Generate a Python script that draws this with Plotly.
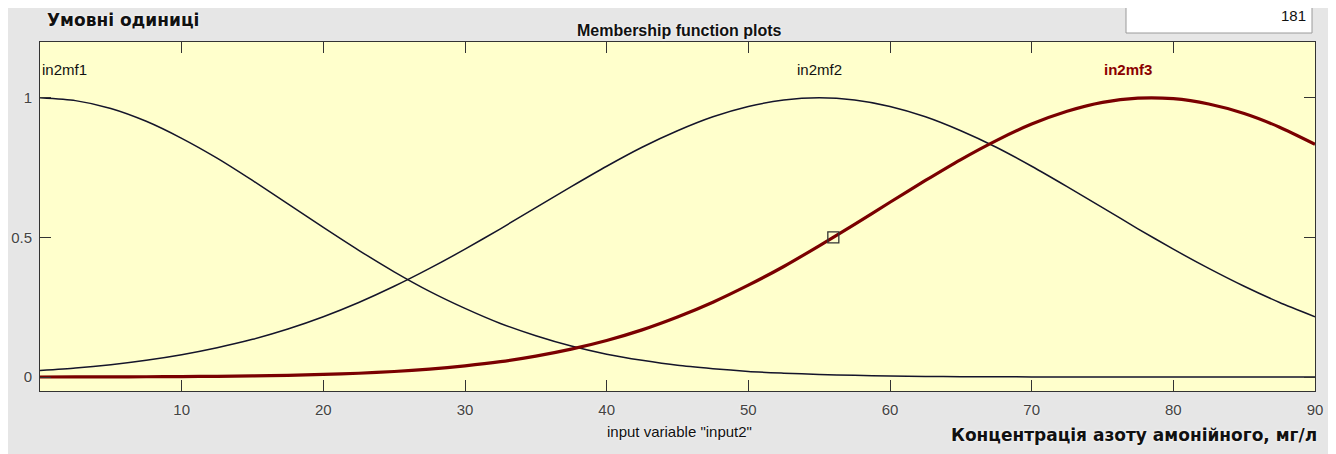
import plotly.graph_objects as go

# x positions where values were read (step 2.5)
x_vals = [i * 2.5 for i in range(37)]
# membership values
in2mf1 = [1.0, 0.990, 0.962, 0.916, 0.855, 0.784, 0.704, 0.620, 0.536, 0.454, 0.377, 0.307,
          0.246, 0.192, 0.148, 0.111, 0.082, 0.060, 0.042, 0.030, 0.020, 0.014, 0.009, 0.006,
          0.004, 0.002, 0.0014, 0.0008, 0.0005, 0.0003, 0.0002, 0.0001, 0.0, 0.0, 0.0, 0.0, 0.0]
in2mf2 = [0.023, 0.032, 0.044, 0.060, 0.080, 0.105, 0.135, 0.172, 0.216, 0.267, 0.325, 0.389,
          0.458, 0.531, 0.607, 0.682, 0.755, 0.823, 0.882, 0.932, 0.969, 0.992, 1.0, 0.992,
          0.969, 0.932, 0.882, 0.823, 0.755, 0.682, 0.607, 0.531, 0.458, 0.389, 0.325, 0.267, 0.216]
in2mf3 = [0.0002, 0.0004, 0.0006, 0.001, 0.0016, 0.0026, 0.004, 0.0061, 0.0092, 0.0136, 0.0198,
          0.0284, 0.040, 0.055, 0.075, 0.100, 0.131, 0.169, 0.215, 0.268, 0.329, 0.396, 0.470,
          0.547, 0.626, 0.704, 0.779, 0.847, 0.906, 0.952, 0.984, 0.999, 0.997, 0.978, 0.944,
          0.895, 0.834]
mf_names = ["in2mf1", "in2mf2", "in2mf3"]
label_x = [0, 55, 76.8]
selected_point = (56, 0.5)
x_ticks = [10, 20, 30, 40, 50, 60, 70, 80, 90]
y_ticks = [0, 0.5, 1]
y_tick_text = ["0", "0.5", "1"]
plot_points = "181"

# page is shown with 8px body margin; figure coordinates = page - 8
OFF = 8
W, H = 1320, 446
L, R, T, B = 32, 13, 34, 63
pw, ph = W - L - R, H - T - B


def px(p):
    return (p - OFF - L) / pw


def py(q):
    return (H - B - (q - OFF)) / ph


fig = go.Figure()
fig.add_trace(go.Scatter(x=x_vals, y=in2mf1, mode="lines",
                         line=dict(color="#14142a", width=1.5, shape="spline", smoothing=0.6),
                         name=mf_names[0], showlegend=False))
fig.add_trace(go.Scatter(x=x_vals, y=in2mf2, mode="lines",
                         line=dict(color="#14142a", width=1.5, shape="spline", smoothing=0.6),
                         name=mf_names[1], showlegend=False))
fig.add_trace(go.Scatter(x=x_vals, y=in2mf3, mode="lines",
                         line=dict(color="#7a0000", width=3.2, shape="spline", smoothing=0.6),
                         name=mf_names[2], showlegend=False))
fig.add_trace(go.Scatter(x=[selected_point[0]], y=[selected_point[1]], mode="markers",
                         marker=dict(symbol="square-open", size=11, color="#333333", line=dict(width=1.3)),
                         showlegend=False))

font = "Liberation Sans, Arial, sans-serif"
glow = "0 0 3px white"
ann = []
ann.append(dict(x=label_x[0], y=1.1, xref="x", yref="y", text=mf_names[0], showarrow=False,
                xanchor="left", yanchor="middle", font=dict(family=font, size=15, color="#111")))
ann.append(dict(x=label_x[1], y=1.1, xref="x", yref="y", text=mf_names[1], showarrow=False,
                xanchor="center", yanchor="middle", font=dict(family=font, size=15, color="#111")))
ann.append(dict(x=label_x[2], y=1.1, xref="x", yref="y", text="<b>" + mf_names[2] + "</b>", showarrow=False,
                xanchor="center", yanchor="middle", font=dict(family=font, size=15, color="#8b0000")))
ann.append(dict(x=px(679), y=py(30), xref="paper", yref="paper", text="<b>Membership function plots</b>",
                showarrow=False, xanchor="center", yanchor="middle",
                font=dict(family=font, size=16, color="#111", shadow=glow)))
ann.append(dict(x=px(679), y=py(431), xref="paper", yref="paper", text='input variable "input2"',
                showarrow=False, xanchor="center", yanchor="middle",
                font=dict(family=font, size=15, color="#111", shadow=glow)))
ann.append(dict(x=px(45), y=py(20), xref="paper", yref="paper", text="<b>Умовні одиниці</b>",
                showarrow=False, xanchor="left", yanchor="middle",
                font=dict(family="DejaVu Sans", size=17, color="#111", shadow=glow)))
ann.append(dict(x=px(1319), y=py(435), xref="paper", yref="paper",
                text="<b>Концентрація азоту амонійного, мг/л</b>",
                showarrow=False, xanchor="right", yanchor="middle",
                font=dict(family="DejaVu Sans", size=17, color="#111", shadow=glow)))
ann.append(dict(x=px(1308), y=py(16), xref="paper", yref="paper", text=plot_points,
                showarrow=False, xanchor="right", yanchor="middle",
                font=dict(family=font, size=15, color="#111")))

shapes = [
    dict(type="rect", xref="paper", yref="paper", x0=px(1126), x1=px(1312), y0=py(33), y1=py(-5),
         fillcolor="white", line=dict(width=1, color="#9a9a9a"), layer="below"),
]

axis_font = dict(family=font, size=15, color="#444", shadow=glow)
fig.update_layout(
    width=W, height=H,
    margin=dict(l=L, r=R, t=T, b=B, pad=0, autoexpand=False),
    paper_bgcolor="#e6e6e6",
    plot_bgcolor="#ffffcc",
    annotations=ann,
    shapes=shapes,
    xaxis=dict(range=[0, 90], tickvals=x_ticks, ticks="inside", ticklen=11, tickcolor="#333",
               showline=True, linecolor="#333", linewidth=1, mirror="ticks", showgrid=False, zeroline=False,
               tickfont=axis_font, ticklabelstandoff=5, automargin=False),
    yaxis=dict(range=[-0.05, 1.2], tickvals=y_ticks, ticktext=y_tick_text, ticks="inside", ticklen=11,
               tickcolor="#333", showline=True, linecolor="#333", linewidth=1, mirror="ticks",
               showgrid=False, zeroline=False, tickfont=axis_font, ticklabelstandoff=4, automargin=False),
)

fig.write_html("out.html")
